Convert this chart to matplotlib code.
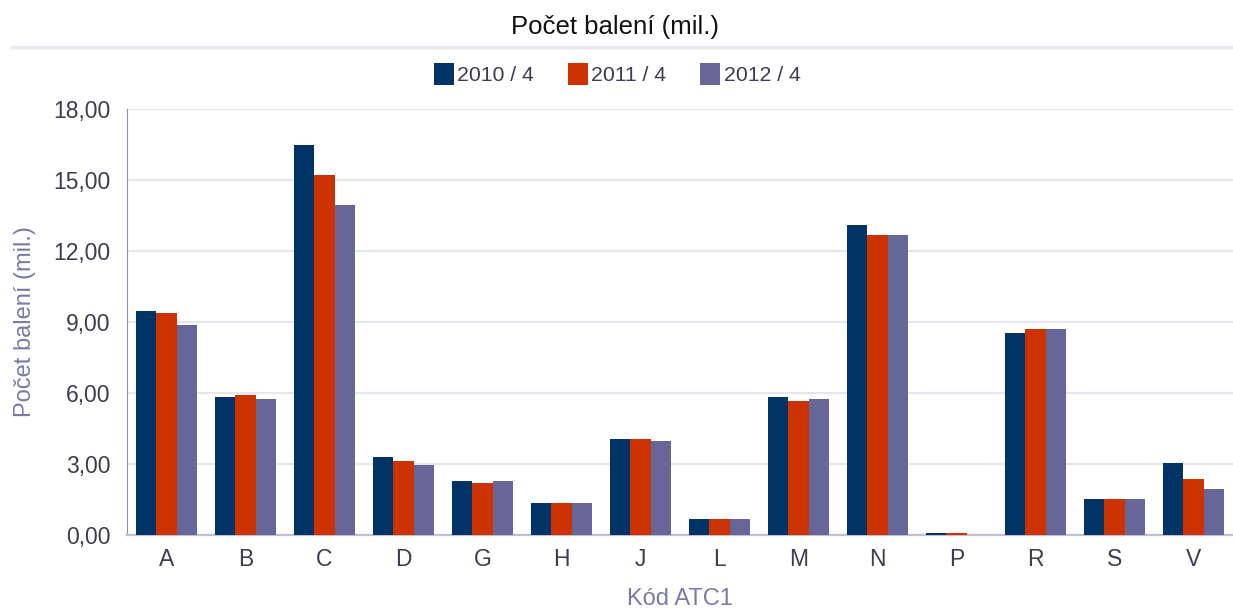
import matplotlib.pyplot as plt
from matplotlib.lines import Line2D
from matplotlib.patches import Patch
from matplotlib.ticker import FuncFormatter, MultipleLocator
import numpy as np

plt.rcParams['font.family'] = ['Liberation Sans', 'DejaVu Sans']

categories = ["A", "B", "C", "D", "G", "H", "J", "L", "M", "N", "P", "R", "S", "V"]
series_names = ["2010 / 4", "2011 / 4", "2012 / 4"]
v2010 = [9.46, 5.83, 16.48, 3.30, 2.28, 1.35, 4.06, 0.68, 5.83, 13.10, 0.08, 8.53, 1.52, 3.04]
v2011 = [9.38, 5.91, 15.21, 3.13, 2.20, 1.35, 4.06, 0.68, 5.66, 12.67, 0.08, 8.70, 1.52, 2.37]
v2012 = [8.87, 5.75, 13.94, 2.96, 2.28, 1.35, 3.97, 0.68, 5.75, 12.67, 0.02, 8.70, 1.52, 1.94]
colors = ["#003366", "#cc3300", "#666699"]

fig = plt.figure(figsize=(12.33, 6.11), dpi=100)
ax = fig.add_axes([127 / 1233, 1 - 535 / 611, 1106 / 1233, 426 / 611])

x = np.arange(len(categories))
w = 0.257
for i, (vals, c) in enumerate(zip([v2010, v2011, v2012], colors)):
    ax.bar(x + (i - 1) * w, vals, width=w, color=c, zorder=3)

ax.set_xlim(-0.5, len(categories) - 0.5)
ax.set_ylim(0, 18)
ax.yaxis.set_major_locator(MultipleLocator(3))
ax.yaxis.set_major_formatter(FuncFormatter(lambda v, p: f"{v:.2f}".replace(".", ",")))
ax.set_xticks(x)
ax.set_xticklabels(categories)
ax.tick_params(axis="both", length=0, labelsize=16.5, labelcolor="#3d3d50")
ax.tick_params(axis="x", pad=9)
ax.tick_params(axis="y", pad=12)

ax.grid(axis="y", color="#e6e6ee", linewidth=1.6, zorder=0)
for s in ["top", "right"]:
    ax.spines[s].set_visible(False)
ax.spines["left"].set_color("#9090b0")
ax.spines["bottom"].set_color("#c0c0d0")
ax.spines["bottom"].set_linewidth(1.6)

ax.set_ylabel("Počet balení (mil.)", fontsize=17, color="#7a7aa6")
ax.yaxis.set_label_coords(-0.082, 0.5)
ax.set_xlabel("Kód ATC1", fontsize=17, color="#7a7aa6")
ax.xaxis.set_label_coords(0.5, -0.125)

fig.text(615 / 1233, 1 - 27 / 611, "Počet balení (mil.)", ha="center", va="center",
         fontsize=18.5, color="#111111")
fig.add_artist(Line2D([12 / 1233, 1], [1 - 47 / 611] * 2, color="#e8e8ee", linewidth=2.5))

handles = [Patch(facecolor=c, edgecolor="none") for c in colors]
fig.legend(handles, series_names, loc="center", bbox_to_anchor=(617 / 1233, 1 - 74 / 611),
           ncol=3, frameon=False, fontsize=15.3, labelcolor="#3d3d50",
           handlelength=0.95, handleheight=1.2, handletextpad=0.15, columnspacing=1.6)

fig.savefig("out.png", dpi=100)
